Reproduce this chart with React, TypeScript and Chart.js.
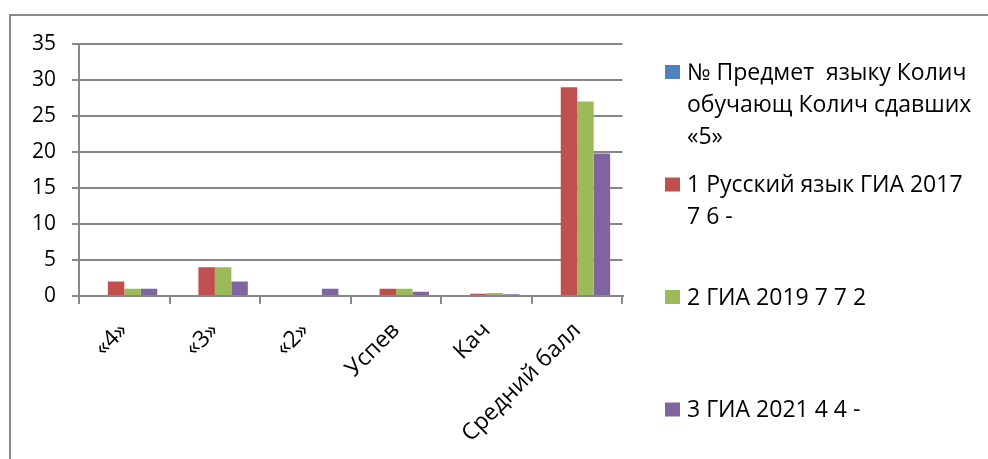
import React, { useEffect, useRef } from "react";
import { Chart, registerables } from "chart.js";

Chart.register(...registerables);

const categories = ["«4»", "«3»", "«2»", "Успев", "Кач", "Средний балл"];

const seriesNames: string[][] = [
  ["№ Предмет  языку Колич", "обучающ Колич сдавших", "«5»"],
  ["1 Русский язык ГИА 2017", "7 6 -"],
  ["2 ГИА 2019 7 7 2"],
  ["3 ГИА 2021 4 4 -"],
];

const seriesSubject = [0, 0, 0, 0, 0, 0];
const seriesRus2017 = [2, 4, 0, 1, 0.3, 29];
const seriesGia2019 = [1, 4, 0, 1, 0.4, 27];
const seriesGia2021 = [1, 2, 1, 0.6, 0.25, 19.8];

const seriesColors = ["#4F81BD", "#C0504D", "#9BBB59", "#8064A2"];

const yMin = 0;
const yMax = 35;
const yStep = 5;

const GRID = "#878787";
const FONT_FAMILY = "'Open Sans', 'Noto Sans', sans-serif";
const Y_FONT_SIZE = 21;
const X_FONT_SIZE = 23;
const LEGEND_FONT_SIZE = 23;

const legendPlugin = {
  id: "sideLegend",
  afterDraw(chart: any) {
    const ctx = chart.ctx as CanvasRenderingContext2D;
    const area = chart.chartArea;
    const boxX = area.right + 42.5;
    const textX = boxX + 22;
    const top = 56;
    const slot = 112.5;
    const lineH = 32;
    ctx.save();
    ctx.font = `${LEGEND_FONT_SIZE}px ${FONT_FAMILY}`;
    ctx.textBaseline = "middle";
    ctx.textAlign = "left";
    chart.data.datasets.forEach((ds: any, i: number) => {
      const lines: string[] = ds.legendLines;
      const y0 = top + i * slot + lineH / 2;
      ctx.fillStyle = ds.backgroundColor;
      ctx.fillRect(boxX, y0 - 7, 15, 14);
      ctx.fillStyle = "#000";
      lines.forEach((ln, k) => {
        ctx.fillText(ln, textX, y0 + 1 + k * lineH);
      });
    });
    ctx.restore();
  },
};

export default function App() {
  const canvasRef = useRef<HTMLCanvasElement | null>(null);

  useEffect(() => {
    if (!canvasRef.current) return;
    const allSeries = [seriesSubject, seriesRus2017, seriesGia2019, seriesGia2021];
    const chart = new Chart(canvasRef.current, {
      type: "bar",
      data: {
        labels: categories,
        datasets: allSeries.map((vals, i) => ({
          label: seriesNames[i].join(" "),
          legendLines: seriesNames[i],
          data: vals,
          backgroundColor: seriesColors[i],
          borderWidth: 0,
          barPercentage: 1,
          categoryPercentage: 4 / 5.5,
        })) as any,
      },
      options: {
        animation: false,
        responsive: false,
        maintainAspectRatio: false,
        layout: { padding: { top: 44, right: 365.5, left: 0, bottom: 0 } },
        plugins: {
          legend: { display: false },
          tooltip: { enabled: false },
          title: { display: false },
        },
        scales: {
          x: {
            grid: {
              display: true,
              drawOnChartArea: false,
              drawTicks: true,
              tickLength: 8,
              color: GRID,
              lineWidth: 2,
              offset: true,
            },
            border: { display: true, color: GRID, width: 2 },
            ticks: {
              autoSkip: false,
              maxRotation: 45,
              minRotation: 45,
              padding: 13,
              color: "#000",
              font: { family: FONT_FAMILY, size: X_FONT_SIZE },
            },
            afterFit: (s: any) => {
              s.height = 163;
            },
          },
          y: {
            min: yMin,
            max: yMax,
            ticks: {
              stepSize: yStep,
              padding: 16,
              color: "#000",
              font: { family: FONT_FAMILY, size: Y_FONT_SIZE },
            },
            grid: {
              color: GRID,
              lineWidth: 2,
              tickLength: 7,
              drawTicks: true,
            },
            border: { display: true, color: GRID, width: 2 },
            afterFit: (s: any) => {
              s.width = 79;
            },
          },
        },
      },
      plugins: [legendPlugin],
    });
    return () => chart.destroy();
  }, []);

  return (
    <div
      style={{
        position: "fixed",
        left: 0,
        top: 0,
        width: 988,
        height: 459,
        overflow: "hidden",
        background: "#fff",
      }}
    >
      <div
        style={{
          position: "absolute",
          left: 9,
          top: 14,
          width: 1100,
          height: 600,
          borderLeft: "2px solid #8a8a8a",
          borderTop: "2px solid #8a8a8a",
        }}
      />
      <canvas
        ref={canvasRef}
        width={988}
        height={459}
        style={{ position: "absolute", left: 0, top: 0, width: 988, height: 459 }}
      />
    </div>
  );
}
